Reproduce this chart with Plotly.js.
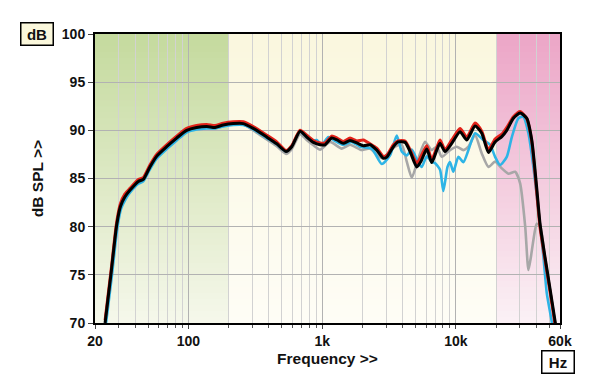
<!DOCTYPE html>
<html><head><meta charset="utf-8">
<script src="https://cdn.plot.ly/plotly-3.0.1.min.js"></script>
<style>html,body{margin:0;padding:0;background:#fff}#chart{width:600px;height:389px}</style>
</head><body><div id="chart"></div>
<script>
// ---- axis / tick data ----
const xTickVals = [20, 100, 1000, 10000, 60000];
const xTickText = ['20', '100', '1k', '10k', '60k'];
const xMinorVals = [30,40,50,60,70,80,90,200,300,400,500,600,700,800,900,2000,3000,4000,5000,6000,7000,8000,9000,20000,30000,40000,50000];
const yTickVals = [70, 75, 80, 85, 90, 95, 100];
const bandEdges = [20, 200, 20000, 60000];

// ---- series data (Hz, dB SPL) ----
const freqBlack = [23.8,26.4,29.0,31.0,33.5,36.6,42.2,45.9,51.5,57.8,68.7,81.6,97,115,137,158,182,216,257,305,385,457,537,592,683,766,859,964,1050,1178,1291,1439,1615,1812,2032,2280,2558,2866,3055,3406,3692,4165,4540,5093,5485,6050,6590,7190,7605,8290,9310,10740,12050,13900,15600,17500,19630,22030,23990,26900,30200,33870,36900,40200,42550,46400,50600,55100,57000];
const dbBlack = [70.0,75.2,80.1,82.1,83.1,83.8,84.7,84.9,86.2,87.3,88.3,89.2,90.0,90.3,90.4,90.3,90.55,90.7,90.7,90.2,89.3,88.6,87.8,88.3,89.9,89.3,88.75,88.5,88.5,89.2,89.0,88.65,88.95,88.7,88.4,88.5,87.95,87.1,87.25,88.3,88.8,88.75,87.8,86.2,86.8,88.05,86.65,87.95,88.65,87.8,88.65,89.85,89.0,90.45,89.7,87.7,88.8,89.35,90.0,91.25,91.8,91.25,89.0,84.0,80.3,76.8,73.5,70.2,68.9];
const dbRed = [70.3,75.5,80.4,82.4,83.4,84.0,84.9,85.1,86.4,87.5,88.5,89.4,90.2,90.5,90.6,90.5,90.75,90.9,90.9,90.4,89.5,88.8,87.9,88.4,90.0,89.5,88.95,88.7,88.7,89.4,89.2,88.85,89.2,88.9,89.0,88.6,88.15,87.3,87.45,88.5,88.9,88.9,88.0,86.6,87.3,88.4,87.0,88.2,89.0,88.0,89.0,90.2,89.3,90.75,89.9,88.0,89.1,89.6,90.3,91.4,91.95,91.2,88.8,83.5,79.9,76.5,73.2,69.8,68.5];

const freqCyan = [24.2,26.8,29.4,31.4,34.0,36.6,42.2,45.9,51.5,57.8,68.7,81.6,97,115,137,158,182,216,257,305,385,457,537,592,683,766,859,910,993,1113,1248,1439,1663,1919,2348,2788,3217,3609,3936,4290,4675,5240,5550,6050,6590,6980,7605,8050,8650,9030,9570,10430,11370,12400,13900,16030,17990,19630,21380,23990,26180,29310,31920,34830,37940,41370,45100,47780,52100,53500];
const dbCyan = [70.0,75.0,79.9,81.9,82.9,83.55,84.45,84.7,85.95,87.05,88.05,88.95,89.8,90.1,90.2,90.2,90.4,90.55,90.55,90.1,89.2,88.55,87.8,88.4,89.85,89.3,88.95,89.0,88.5,89.3,88.9,88.5,88.8,88.3,88.1,86.5,87.4,89.45,87.8,87.4,88.0,86.6,86.2,87.3,86.7,86.6,85.9,83.7,86.2,86.7,85.7,87.25,86.7,87.95,89.7,89.0,88.5,87.25,86.4,87.25,89.3,91.25,91.4,89.7,86.2,81.7,76.9,73.1,70.1,68.8];

const freqGray = [23.8,26.4,29.0,31.0,33.5,36.6,42.2,45.9,51.5,57.8,68.7,81.6,97,115,137,158,182,216,257,305,385,457,537,592,683,766,859,964,1145,1400,1615,1977,2280,2788,3508,3936,4290,4675,5240,5875,6590,7190,7835,9030,10140,11370,12400,13900,15600,17500,19630,22030,24680,27720,30200,32960,34830,36300,37940,40200,42550,46400,50600,55100,57000];
const dbGray = [70.0,75.1,80.0,82.0,83.0,83.7,84.6,84.8,86.1,87.2,88.2,89.1,89.9,90.2,90.3,90.2,90.45,90.6,90.6,90.0,89.05,88.35,87.55,88.05,89.6,89.0,88.45,88.0,88.8,88.1,88.5,87.95,88.1,87.1,88.3,88.5,86.75,85.1,87.1,88.8,87.95,88.3,87.25,87.95,88.3,87.95,88.3,89.5,87.6,86.2,86.75,86.05,85.5,85.7,84.5,80.0,75.5,76.8,78.6,80.3,80.1,76.7,73.4,70.1,68.8];

// ---- styling ----
const bandTop = [[197,218,158],[250,247,222],[236,166,199]];
const bandBottom = [[246,248,236],[254,253,246],[251,242,246]];
const yMin = yTickVals[0], yMax = yTickVals[yTickVals.length-1];
const shapes = [];
const N = 48;
for (let b = 0; b < bandEdges.length - 1; b++) {
  for (let k = 0; k < N; k++) {
    const top = yMax - k * (yMax - yMin) / N;
    const f = (top - yMin) / (yMax - yMin);
    const c = bandBottom[b].map((v, i) => Math.round(v + (bandTop[b][i] - v) * f));
    shapes.push({type:'rect', xref:'x', yref:'y', x0:bandEdges[b], x1:bandEdges[b+1], y0:yMin, y1:top,
      fillcolor:`rgb(${c[0]},${c[1]},${c[2]})`, line:{width:0}, layer:'below'});
  }
}

const lineStyle = (color, width) => ({color, width, shape:'spline', smoothing:0.6});
const traces = [
  {x:freqGray, y:dbGray, mode:'lines', line:lineStyle('#a7a7a7', 2.6), hoverinfo:'skip'},
  {x:freqCyan, y:dbCyan, mode:'lines', line:lineStyle('#2db4e6', 2.6), hoverinfo:'skip'},
  {x:freqBlack, y:dbRed, mode:'lines', line:lineStyle('#e2231a', 3), hoverinfo:'skip'},
  {x:freqBlack, y:dbBlack, mode:'lines', line:lineStyle('#000000', 3), hoverinfo:'skip'}
];

const fontFam = 'Liberation Sans, Arial, Helvetica, sans-serif';
const layout = {
  width:600, height:389,
  margin:{l:95, r:40, t:34, b:66, pad:0},
  showlegend:false,
  paper_bgcolor:'#ffffff', plot_bgcolor:'#fcfaea',
  font:{family:fontFam, color:'#111'},
  xaxis:{
    type:'log', range:[Math.log10(20), Math.log10(60000)],
    tickmode:'array', tickvals:xTickVals, ticktext:xTickText,
    ticks:'outside', ticklen:4, tickwidth:1, tickcolor:'#444',
    showgrid:true, gridcolor:'#b2b2b2', gridwidth:1,
    minor:{tickmode:'array', tickvals:xMinorVals, ticks:'outside', ticklen:3, tickwidth:1, tickcolor:'#555',
           showgrid:true, gridcolor:'#d2d2d2', gridwidth:1},
    showline:true, linecolor:'#000', linewidth:2, mirror:true,
    tickfont:{family:fontFam, size:14, color:'#111', weight:'bold'},
    title:{text:'Frequency >>', font:{family:fontFam, size:15.5, color:'#111', weight:'bold'}, standoff:5},
    zeroline:false, automargin:false
  },
  yaxis:{
    range:[yMin, yMax], tickmode:'array', tickvals:yTickVals,
    ticks:'outside', ticklen:5, tickwidth:1, tickcolor:'#444',
    showgrid:true, gridcolor:'#b2b2b2', gridwidth:1,
    showline:true, linecolor:'#000', linewidth:2, mirror:true,
    tickfont:{family:fontFam, size:14, color:'#111', weight:'bold'},
    title:{text:'dB SPL >>', font:{family:fontFam, size:15.5, color:'#111', weight:'bold'}, standoff:14},
    zeroline:false, automargin:false
  },
  shapes:shapes,
  annotations:[
    {xref:'paper', yref:'paper', x:-0.1237, y:0.9983, xanchor:'center', yanchor:'middle', showarrow:false,
     text:'dB', font:{family:fontFam, size:15, color:'#111', weight:'bold'},
     bgcolor:'#fbf8dc', bordercolor:'#000', borderwidth:1.5, borderpad:1, width:29, height:19},
    {xref:'paper', yref:'paper', x:0.9963, y:-0.1343, xanchor:'center', yanchor:'middle', showarrow:false,
     text:'Hz', font:{family:fontFam, size:15, color:'#111', weight:'bold'},
     bgcolor:'#ffffff', bordercolor:'#000', borderwidth:1.5, borderpad:1, width:29, height:19}
  ]
};

Plotly.newPlot('chart', traces, layout, {staticPlot:true, displayModeBar:false});
</script>
</body></html>
